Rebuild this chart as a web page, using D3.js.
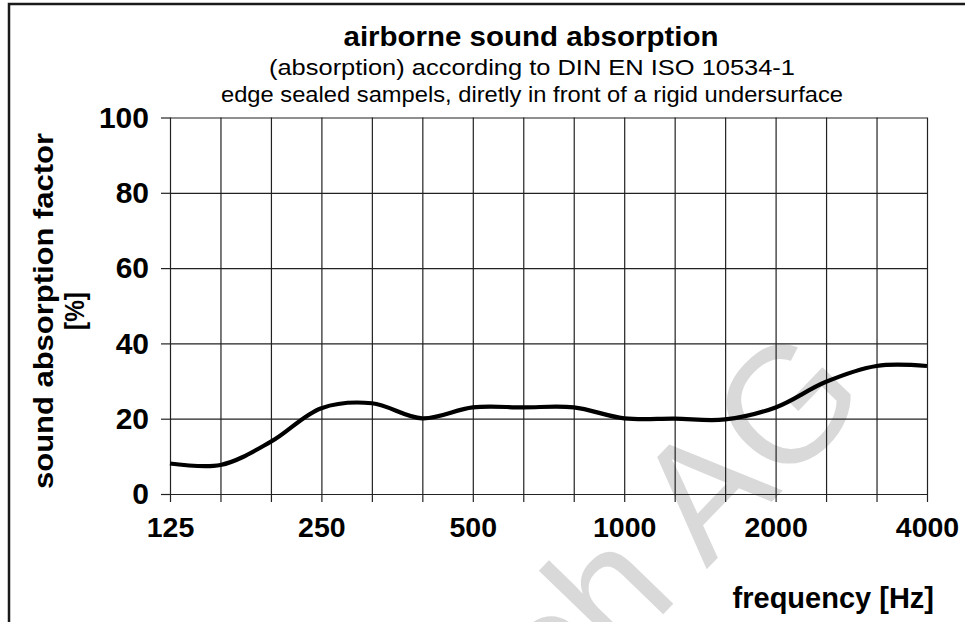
<!DOCTYPE html>
<html><head><meta charset="utf-8">
<script src="https://cdn.jsdelivr.net/npm/d3@7"></script>
<style>
html,body{margin:0;padding:0;background:#fff;}
svg{display:block;}
text{font-family:"Liberation Sans",Arial,sans-serif;}
</style></head>
<body>
<script>
const frequencies = ["125","160","200","250","315","400","500","630","800","1000","1250","1600","2000","2500","3150","4000"];
const absorption = [8.1, 7.7, 13.9, 22.8, 24.1, 20.1, 23.0, 23.0, 23.0, 20.1, 20.0, 19.8, 23.0, 29.8, 34.0, 34.0];
const xLabels = ["125","250","500","1000","2000","4000"];
const yTicks = [0,20,40,60,80,100];
const title = "airborne sound absorption";
const subtitles = ["(absorption) according to DIN EN ISO 10534-1", "edge sealed sampels, diretly in front of a rigid undersurface"];
const yTitle = ["sound absorption factor", "[%]"];
const xTitle = "frequency [Hz]";
const watermark = "tech AG";

const W = 965, H = 622;
const svg = d3.select("body").append("svg").attr("width", W).attr("height", H);

const x0 = 170, x1 = 927, yTop = 117.5, yBot = 494;
const x = d3.scalePoint().domain(frequencies).range([x0, x1]);
const y = d3.scaleLinear().domain([0, 100]).range([yBot, yTop]);

// frame
svg.append("rect").attr("x", 9).attr("y", 4).attr("width", 980).attr("height", 700)
  .attr("fill", "none").attr("stroke", "#1a1a1a").attr("stroke-width", 2.5);

// watermark
svg.append("text").attr("transform", "translate(872,398) rotate(-46)")
  .attr("text-anchor", "end").attr("font-size", 165).attr("fill", "#d9d9d9").text(watermark);

// titles
svg.append("text").attr("x", 531).attr("y", 46).attr("text-anchor", "middle")
  .attr("font-size", 28).attr("font-weight", "bold")
  .attr("textLength", 375).attr("lengthAdjust", "spacingAndGlyphs").text(title);
const subLen = [526, 622];
svg.selectAll(".sub").data(subtitles).enter().append("text")
  .attr("x", 532).attr("y", (d, i) => 75 + i * 26.5).attr("text-anchor", "middle")
  .attr("font-size", 21.5).attr("textLength", (d, i) => subLen[i])
  .attr("lengthAdjust", "spacingAndGlyphs").text(d => d);

// grid
const gx = svg.append("g").attr("transform", `translate(0,${yBot})`)
  .call(d3.axisBottom(x).tickSize(-(yBot - yTop)).tickFormat(""));
gx.select(".domain").remove();
const xa = svg.append("g").attr("transform", `translate(0,${yBot})`)
  .call(d3.axisBottom(x).tickSize(8).tickPadding(15)
    .tickFormat(d => xLabels.includes(d) ? d : ""));
xa.select(".domain").remove();
xa.selectAll("text").attr("font-size", 28.5).attr("font-weight", "bold").attr("fill", "#000")
  .attr("font-family", "Liberation Sans, Arial, sans-serif");

const gy = svg.append("g").attr("transform", `translate(${x0},0)`)
  .call(d3.axisLeft(y).tickValues(yTicks).tickSize(-(x1 - x0)).tickFormat(""));
gy.select(".domain").remove();
const ya = svg.append("g").attr("transform", `translate(${x0},0)`)
  .call(d3.axisLeft(y).tickValues(yTicks).tickSize(9).tickPadding(12));
ya.select(".domain").remove();
ya.selectAll("text").attr("font-size", 30).attr("font-weight", "bold").attr("fill", "#000")
  .attr("font-family", "Liberation Sans, Arial, sans-serif");

svg.selectAll(".tick line").attr("stroke", "#222").attr("stroke-width", 1.2);

// axis titles
const yLen = [356, 38];
svg.selectAll(".yt").data(yTitle).enter().append("text")
  .attr("transform", (d, i) => `translate(${53 + i * 31},311) rotate(-90)`)
  .attr("text-anchor", "middle").attr("font-size", 27).attr("font-weight", "bold")
  .attr("textLength", (d, i) => yLen[i]).attr("lengthAdjust", "spacingAndGlyphs").text(d => d);
svg.append("text").attr("x", 934).attr("y", 608).attr("text-anchor", "end")
  .attr("font-size", 29).attr("font-weight", "bold").text(xTitle);

// curve
const line = d3.line().x((d, i) => x(frequencies[i])).y(d => y(d)).curve(d3.curveCatmullRom.alpha(0.5));
svg.append("path").datum(absorption).attr("d", line).attr("fill", "none")
  .attr("stroke", "#000").attr("stroke-width", 4.2).attr("stroke-linejoin", "round");
</script>
</body></html>
